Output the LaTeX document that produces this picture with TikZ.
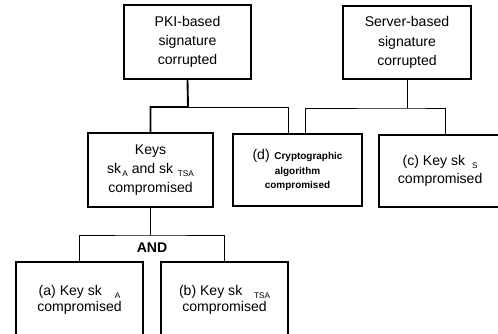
\documentclass[tikz,border=0pt]{standalone}
\usepackage{fontspec}
\setmainfont{Liberation Sans}
\usetikzlibrary{calc}
\newcommand{\lowsub}[2]{\hspace{#1}\raisebox{-2.5pt}{\fontsize{7}{8}\selectfont #2}}
\tikzset{
  box/.style={draw, line width=1.4pt, align=center, inner sep=2pt,
    font=\fontsize{12}{16.5}\selectfont},
  conn/.style={line width=0.6pt},
  connthick/.style={line width=1.6pt}
}

\begin{document}
\begin{tikzpicture}[x=0.03cm,y=-0.03cm]
  \useasboundingbox (0,0) rectangle (498,334);
  \clip (0,0) rectangle (498,334);

  % top events
  \node[box, minimum width=3.81cm, minimum height=2.22cm] (pki) at (187.5,42)
    {PKI-based\\signature\\corrupted};
  \node[box, minimum width=3.84cm, minimum height=2.19cm] (srv) at (407,42.5)
    {Server-based\\signature\\corrupted};

  % middle row
  \node[box, minimum width=3.75cm, minimum height=2.22cm] (keys) at (150.5,170)
    {Keys\\sk\lowsub{1pt}{A} and sk\lowsub{4pt}{TSA}\\compromised};
  \node[box, minimum width=3.87cm, minimum height=2.16cm,
    font=\fontsize{8.5}{12.3}\selectfont\bfseries] (algo) at (297.5,170)
    {{\fontsize{12}{12}\selectfont\mdseries (d)}\hspace{4pt}Cryptographic\\algorithm\\compromised};
  \node[box, minimum width=4.02cm, minimum height=2.16cm,
    font=\fontsize{12}{15}\selectfont] (keyS) at (446,171)
    {(c) Key sk\lowsub{6pt}{S}\hspace*{10pt}\\compromised\hspace*{10pt}};

  % bottom row
  \node[box, minimum width=3.81cm, minimum height=2.28cm,
    font=\fontsize{12}{14}\selectfont] (keyA) at (79.5,300)
    {(a) Key sk\lowsub{11pt}{A}\\compromised};
  \node[box, minimum width=3.81cm, minimum height=2.28cm,
    font=\fontsize{12}{14}\selectfont] (keyT) at (224.5,300)
    {(b) Key sk\lowsub{10pt}{TSA}\\compromised};

  % connectors
  \coordinate (pkiJ) at (188,107);
  \coordinate (srvJ) at (407,108);
  \coordinate (andJ) at (150.5,235);

  \draw[connthick] (pki.south) -- (pkiJ) -| (keys.north);
  \draw[conn] (pkiJ) -| ([xshift=-0.28cm]algo.north);
  \draw[conn] (srv.south) -- (srvJ);
  \draw[conn] ([xshift=0.25cm]algo.north) |- (srvJ) -| ([xshift=-0.03cm]keyS.north);

  \draw[conn] (keys.south) -- (andJ);
  \draw[conn] (keyA.north) |- (andJ) -| (keyT.north);
  \node[font=\fontsize{12}{14}\selectfont\bfseries] (andlbl) at (152,248) {AND};
\end{tikzpicture}
\end{document}
